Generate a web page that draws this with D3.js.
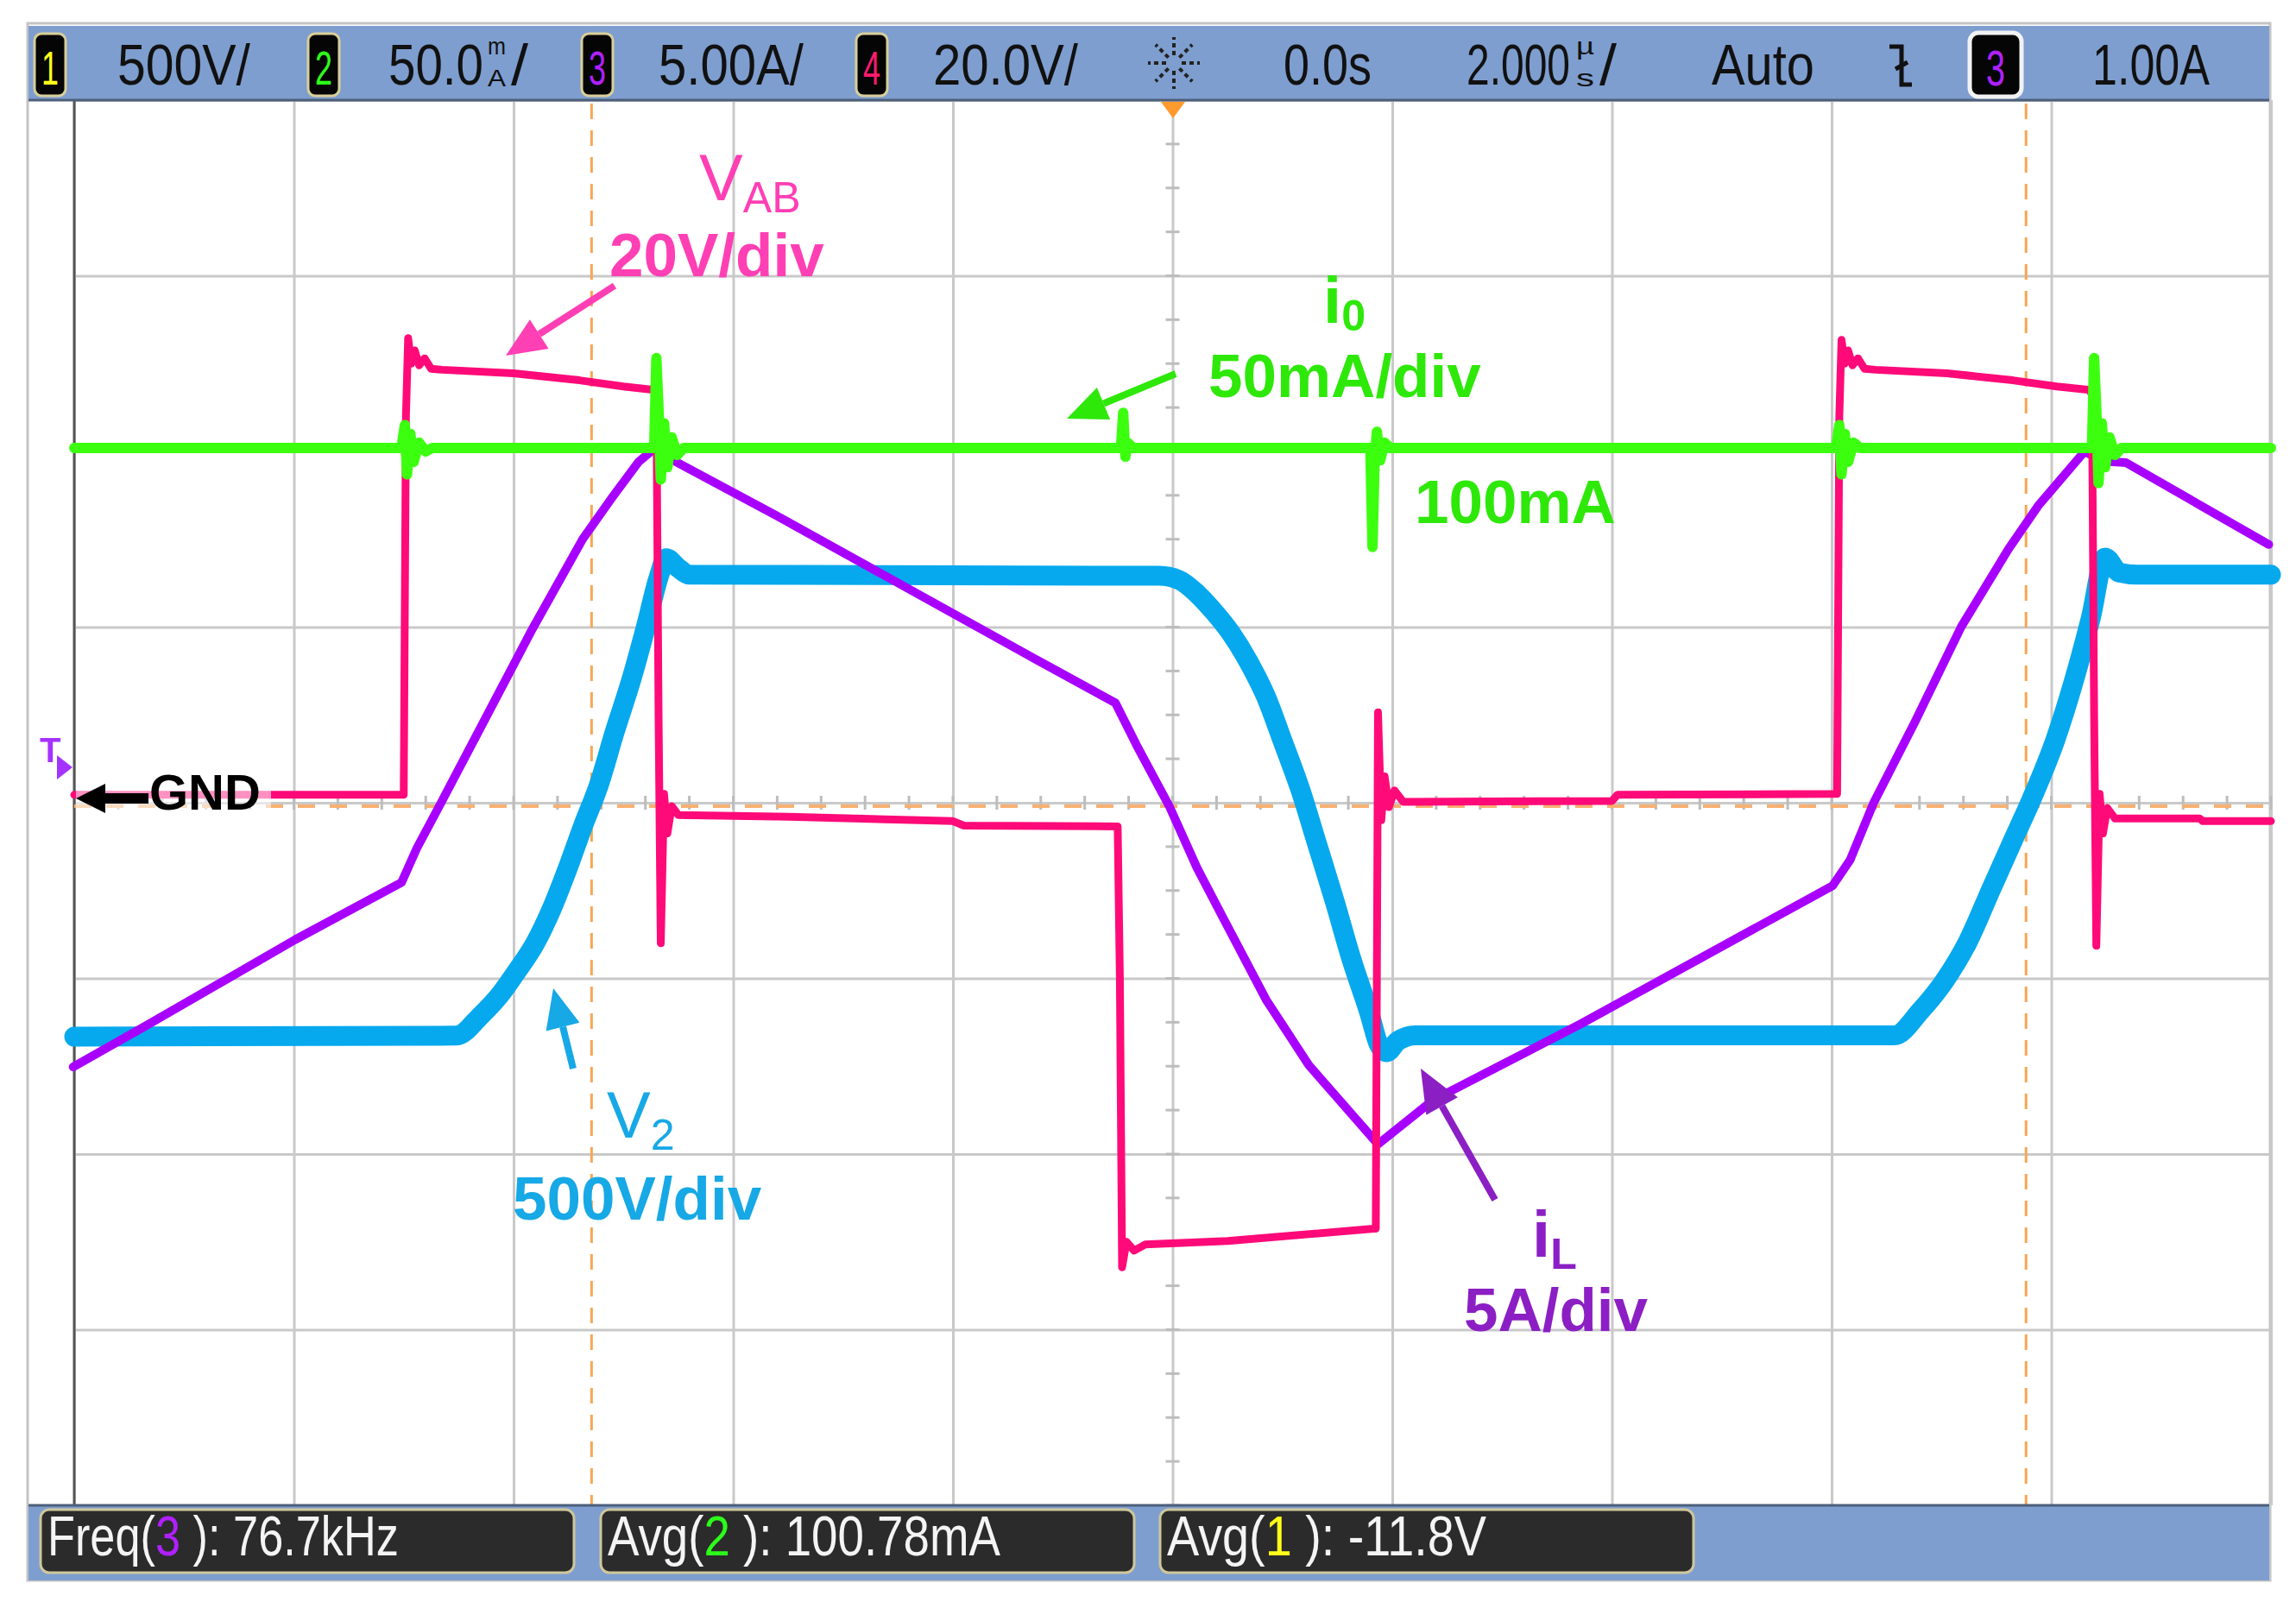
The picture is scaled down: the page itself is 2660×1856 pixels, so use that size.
<!DOCTYPE html>
<html>
<head>
<meta charset="utf-8">
<script src="https://cdn.jsdelivr.net/npm/d3@7"></script>
<style>
  html, body { margin: 0; padding: 0; background: #fff; }
  svg { display: block; }
</style>
</head>
<body>
<div id="scope"></div>
<script>
// time in us, values in channel units (V, mA, A, V)
var vabPoints = [
  [-10.0, 0.9], [-7.0, 0.9], [-6.98, 44], [-6.96, 52.9], [-6.93, 50.0], [-6.9, 51.5], [-6.86, 49.8],
  [-6.81, 50.6], [-6.75, 49.4], [-6.65, 49.3], [-6.0, 48.9], [-5.4, 48.1], [-5.0, 47.4], [-4.72, 47.0],
  [-4.70, 46.4], [-4.68, 10], [-4.66, -16], [-4.63, 1], [-4.60, -3.5], [-4.56, -0.4], [-4.50, -1.4],
  [-3.5, -1.6], [-2.0, -2.1], [-1.9, -2.6], [-0.5, -2.7], [-0.48, -20], [-0.46, -52.9], [-0.42, -50.0],
  [-0.35, -51.0], [-0.25, -50.3], [0.5, -49.9], [1.83, -48.5], [1.85, -48.5], [1.87, 10.3], [1.9, -2],
  [1.93, 3], [1.97, -0.5], [2.02, 1.4], [2.1, 0.1], [4.0, 0.2], [4.05, 0.9], [6.05, 1.0], [6.07, 44],
  [6.09, 52.7], [6.12, 50.0], [6.15, 51.5], [6.19, 49.8], [6.24, 50.6], [6.3, 49.4], [6.4, 49.3],
  [7.05, 48.9], [7.65, 48.1], [8.05, 47.4], [8.35, 47.0], [8.37, 46.4], [8.39, 10], [8.41, -16.3],
  [8.44, 1], [8.47, -3.5], [8.51, -0.6], [8.58, -1.8], [9.35, -1.8], [9.38, -2.1], [10.0, -2.1]
];

var i0Points = [
  [-10, 101], [-7.02, 101], [-6.99, 107.5], [-6.97, 93.5], [-6.94, 105], [-6.91, 97], [-6.86, 102.5],
  [-6.8, 100], [-6.74, 101], [-4.72, 101], [-4.70, 126.6], [-4.68, 112], [-4.66, 92], [-4.63, 108],
  [-4.60, 95.5], [-4.56, 104], [-4.51, 99], [-4.45, 101], [-0.47, 101], [-0.45, 111], [-0.43, 98.5],
  [-0.41, 102.5], [-0.36, 101], [1.80, 101], [1.82, 72.8], [1.84, 98], [1.86, 105.6], [1.89, 97.5],
  [1.93, 102.5], [1.98, 101], [6.04, 101], [6.07, 107.5], [6.09, 93.5], [6.12, 105], [6.15, 97],
  [6.2, 102.5], [6.26, 101], [8.37, 101], [8.39, 126.6], [8.41, 112], [8.43, 91], [8.46, 108],
  [8.49, 95.5], [8.53, 104], [8.58, 99], [8.64, 101], [10, 101]
];

var ilPoints = [
  [-10.01, -7.52], [-9.33, -6.32], [-7.99, -3.9], [-7.02, -2.27], [-6.88, -1.29], [-6.66, 0],
  [-6.30, 2.14], [-5.83, 4.94], [-5.37, 7.51], [-5.1, 8.7], [-4.86, 9.71], [-4.73, 10.05], [-4.55, 9.75],
  [-3.61, 8.18], [-1.25, 4.09], [-0.52, 2.84], [-0.33, 1.65], [-0.03, -0.1], [0.22, -1.84],
  [0.45, -3.22], [0.85, -5.60], [1.24, -7.47], [1.87, -9.72], [2.37, -8.47], [3.72, -6.29],
  [6.01, -2.36], [6.17, -1.62], [6.38, -0.02], [6.76, 2.31], [7.18, 5.01], [7.61, 7.22],
  [7.88, 8.45], [8.30, 9.99], [8.50, 9.72], [8.68, 9.68], [9.98, 7.35]
];

var v2Points = [
  [-10.0, -666], [-6.52, -663], [-6.30, -606], [-6.12, -545], [-5.98, -484], [-5.80, -398],
  [-5.65, -300], [-5.51, -189], [-5.37, -68], [-5.22, 54], [-5.08, 201], [-4.93, 348], [-4.79, 507],
  [-4.68, 641], [-4.61, 696], [-4.50, 668], [-4.40, 649], [-0.12, 646], [0.06, 634], [0.22, 596],
  [0.37, 546], [0.53, 483], [0.69, 402], [0.85, 302], [1.00, 177], [1.16, 40], [1.32, -122],
  [1.48, -285], [1.63, -447], [1.79, -597], [1.88, -690], [1.95, -710], [2.05, -678], [2.21, -662],
  [6.57, -662], [6.81, -592], [7.03, -506], [7.24, -396], [7.45, -248], [7.66, -101], [7.82, 10],
  [8.04, 182], [8.20, 341], [8.36, 526], [8.49, 698], [8.62, 655], [8.78, 649], [10.0, 649]
];

var gridTimes = [-10, -8, -6, -4, -2, 0, 2, 4, 6, 8, 10];
var gridDivs = [-4, -3, -2, -1, 0, 1, 2, 3, 4];
var cursorTimes = [-5.29, 7.77];

var W = 2660, H = 1856;
var gLeft = 86, gRight = 2631, gTop = 116, gBottom = 1744, midY = 930;

var svg = d3.select("#scope").append("svg")
    .attr("width", W).attr("height", H)
    .style("font-family", "'Liberation Sans', Arial, sans-serif");

svg.append("rect").attr("width", W).attr("height", H).attr("fill", "#fff");

var x = d3.scaleLinear().domain([-10, 10]).range([gLeft, gRight]);
var yDiv = d3.scaleLinear().domain([-4, 4]).range([gBottom, gTop]);
var yVab = d3.scaleLinear().domain([-80, 80]).range([gBottom, gTop]);     // 20 V/div
var yI0 = d3.scaleLinear().domain([-200, 200]).range([gBottom, gTop]);    // 50 mA/div
var yIl = d3.scaleLinear().domain([-20, 20]).range([gBottom, gTop]);      // 5 A/div
var yV2 = d3.scaleLinear().domain([-2000, 2000]).range([gBottom, gTop]);  // 500 V/div

// squeeze a text to a given width (scope font is condensed)
function squeeze(t, xp, yp, width) {
    var w = t.node().getComputedTextLength();
    t.attr("x", 0).attr("y", 0)
        .attr("transform", "translate(" + xp + "," + yp + ") scale(" + (width / w) + ",1)");
    return t;
}

// screen frame
svg.append("rect").attr("x", 32).attr("y", 27).attr("width", 2598).attr("height", 1804)
    .attr("fill", "#fff").attr("stroke", "#c4c4c4").attr("stroke-width", 3);

// graticule
var grid = svg.append("g");
grid.append("g")
    .attr("transform", "translate(0," + gTop + ")")
    .call(d3.axisTop(x).tickValues(gridTimes).tickSize(-(gBottom - gTop)).tickFormat(""))
    .call(function (g) { g.select(".domain").remove(); })
    .selectAll("line").attr("stroke", "#c9c9c9").attr("stroke-width", 3);
grid.append("g")
    .attr("transform", "translate(" + gLeft + ",0)")
    .call(d3.axisLeft(yDiv).tickValues(gridDivs).tickSize(-(gRight - gLeft)).tickFormat(""))
    .call(function (g) { g.select(".domain").remove(); })
    .selectAll("line").attr("stroke", "#c9c9c9").attr("stroke-width", 3);

// minor ticks on the centre lines
var minorX = d3.range(-10, 10.001, 0.4), minorY = d3.range(-4, 4.001, 0.25);
grid.selectAll(".mx").data(minorX).enter().append("line")
    .attr("x1", function (d) { return x(d); }).attr("x2", function (d) { return x(d); })
    .attr("y1", midY - 8).attr("y2", midY + 8)
    .attr("stroke", "#bdbdbd").attr("stroke-width", 3);
grid.selectAll(".my").data(minorY).enter().append("line")
    .attr("y1", function (d) { return yDiv(d); }).attr("y2", function (d) { return yDiv(d); })
    .attr("x1", x(0) - 8).attr("x2", x(0) + 8)
    .attr("stroke", "#bdbdbd").attr("stroke-width", 3);

grid.append("line").attr("x1", gLeft).attr("x2", gLeft).attr("y1", gTop).attr("y2", gBottom)
    .attr("stroke", "#555").attr("stroke-width", 3);

// cursors
svg.selectAll(".cur").data(cursorTimes).enter().append("line")
    .attr("x1", function (d) { return x(d); }).attr("x2", function (d) { return x(d); })
    .attr("y1", gTop + 4).attr("y2", gBottom)
    .attr("stroke", "#f7a654").attr("stroke-width", 3).attr("stroke-dasharray", "18,13");
svg.append("line").attr("x1", gLeft).attr("x2", gRight).attr("y1", 934).attr("y2", 934)
    .attr("stroke", "#f7b070").attr("stroke-width", 4).attr("stroke-dasharray", "20,17");

// traces
function trace(points, yScale, color, width, curve) {
    var line = d3.line()
        .x(function (d) { return x(d[0]); })
        .y(function (d) { return yScale(d[1]); })
        .curve(curve || d3.curveLinear);
    svg.append("path").attr("d", line(points))
        .attr("fill", "none").attr("stroke", color).attr("stroke-width", width)
        .attr("stroke-linejoin", "round").attr("stroke-linecap", "round");
}

trace(v2Points, yV2, "#06a9ee", 23, d3.curveMonotoneX);
trace(ilPoints, yIl, "#a800ff", 10);
trace(vabPoints, yVab, "#ff0a78", 9);
trace(i0Points, yI0, "#3cff10", 12);

// GND marker
svg.append("rect").attr("x", 88).attr("y", 898).attr("width", 226).attr("height", 42)
    .attr("fill", "#fff").attr("opacity", 0.55);
function arrow(x1, y1, x2, y2, color, w, headL, headW) {
    var a = Math.atan2(y2 - y1, x2 - x1);
    var bx = x2 - headL * Math.cos(a), by = y2 - headL * Math.sin(a);
    svg.append("line").attr("x1", x1).attr("y1", y1).attr("x2", bx).attr("y2", by)
        .attr("stroke", color).attr("stroke-width", w);
    var px = -Math.sin(a) * headW / 2, py = Math.cos(a) * headW / 2;
    svg.append("polygon")
        .attr("points", [[x2, y2], [bx + px, by + py], [bx - px, by - py]].map(function (p) { return p.join(","); }).join(" "))
        .attr("fill", color);
}
arrow(172, 925, 88, 925, "#000", 12, 34, 34);
svg.append("text").attr("x", 173).attr("y", 938).text("GND")
    .attr("font-size", 58).attr("font-weight", "bold").attr("fill", "#000");

// trigger level marker
svg.append("text").attr("x", 46).attr("y", 883).text("T")
    .attr("font-size", 40).attr("font-weight", "bold").attr("fill", "#a533ff");
svg.append("polygon").attr("points", "66,875 66,903 84,889").attr("fill", "#a533ff");

// annotations
function label(xp, yp, main, sub, color, size, bold, dy) {
    var t = svg.append("text").attr("x", xp).attr("y", yp).attr("fill", color)
        .attr("font-size", size).attr("font-weight", bold ? "bold" : "normal");
    t.append("tspan").text(main);
    if (sub) t.append("tspan").attr("dy", dy || 14).attr("font-size", size * 0.66).text(sub);
}
label(810, 232, "V", "AB", "#ff3fb4", 76, false);
label(706, 320, "20V/div", null, "#ff3fb4", 71, true);
arrow(712, 331, 586, 412, "#ff3fb4", 8, 46, 40);

label(1533, 374, "i", "0", "#2ee80a", 76, true, 9);
label(1400, 460, "50mA/div", null, "#2ee80a", 71, true);
arrow(1362, 433, 1236, 485, "#2ee80a", 8, 46, 40);
label(1639, 606, "100mA", null, "#2ee80a", 71, true);

label(703, 1318, "V", "2", "#17a8e6", 76, false);
label(594, 1413, "500V/div", null, "#17a8e6", 71, true);
arrow(664, 1238, 641, 1145, "#17a8e6", 8, 46, 40);

label(1775, 1456, "i", "L", "#8b1fc4", 76, true);
label(1696, 1542, "5A/div", null, "#8b1fc4", 71, true);
arrow(1732, 1390, 1646, 1238, "#8b1fc4", 8, 50, 42);

// top status bar
var barFill = "#7e9ecf";
svg.append("rect").attr("x", 33).attr("y", 30).attr("width", 2596).attr("height", 86).attr("fill", barFill);
svg.append("line").attr("x1", 33).attr("x2", 2629).attr("y1", 116).attr("y2", 116)
    .attr("stroke", "#4d5f7a").attr("stroke-width", 3);

var badges = [
    {x: 40, n: "1", c: "#ffff1a"}, {x: 357, n: "2", c: "#2cff1a"},
    {x: 674, n: "3", c: "#b020ff"}, {x: 992, n: "4", c: "#ff1a6e"}
];
badges.forEach(function (b) {
    svg.append("rect").attr("x", b.x).attr("y", 39).attr("width", 36).attr("height", 72).attr("rx", 8)
        .attr("fill", "#050505").attr("stroke", "#d9cf9a").attr("stroke-width", 3);
    squeeze(svg.append("text").attr("font-size", 56).attr("fill", b.c).text(b.n), b.x + 8, 98, 20);
});
svg.append("rect").attr("x", 2282).attr("y", 38).attr("width", 60).attr("height", 74).attr("rx", 10)
    .attr("fill", "#050505").attr("stroke", "#f2f2f2").attr("stroke-width", 5);
squeeze(svg.append("text").attr("font-size", 58).attr("fill", "#b020ff").text("3"), 2301, 99, 22);

function barText(xp, w, s) {
    squeeze(svg.append("text").attr("font-size", 67).attr("fill", "#111").text(s), xp, 98, w);
}
barText(136, 154, "500V/");
barText(450, 110, "50.0");
barText(592, 20, "/");
barText(763, 168, "5.00A/");
barText(1081, 168, "20.0V/");
barText(1487, 102, "0.0s");
barText(1699, 120, "2.000");
barText(1853, 20, "/");
barText(1983, 119, "Auto");
barText(2424, 136, "1.00A");
function stack(xp, a, b) {
    squeeze(svg.append("text").attr("font-size", 27).attr("fill", "#111").text(a), xp, 63, 21);
    squeeze(svg.append("text").attr("font-size", 27).attr("fill", "#111").text(b), xp, 100, 21);
}
stack(565, "m", "A");
stack(1826, "\u00b5", "s");

// acquisition icon
var sun = svg.append("g").attr("transform", "translate(1360,73)");
d3.range(0, 360, 45).forEach(function (ang) {
    var r = ang * Math.PI / 180;
    sun.append("line").attr("x1", 9 * Math.cos(r)).attr("y1", 9 * Math.sin(r))
        .attr("x2", 30 * Math.cos(r)).attr("y2", 30 * Math.sin(r))
        .attr("stroke", "#222").attr("stroke-width", 4).attr("stroke-dasharray", "5,4");
});
// trigger slope icon
svg.append("path").attr("d", "M2189,54 L2203,54 L2203,98 L2215,98 M2196,80 L2210,72")
    .attr("fill", "none").attr("stroke", "#111").attr("stroke-width", 5);
// trigger position marker
svg.append("polygon").attr("points", "1345,118 1373,118 1359,137").attr("fill", "#ff9a2e");

// bottom measurement bar
svg.append("rect").attr("x", 33).attr("y", 1745).attr("width", 2596).attr("height", 86).attr("fill", barFill);
svg.append("line").attr("x1", 33).attr("x2", 2629).attr("y1", 1744).attr("y2", 1744)
    .attr("stroke", "#4d5f7a").attr("stroke-width", 3);
var meas = [
    {x: 47, w: 618, pre: "Freq(", n: "3", c: "#b020ff", post: " ): 76.7kHz", tw: 407},
    {x: 696, w: 618, pre: "Avg(", n: "2", c: "#2cff1a", post: " ): 100.78mA", tw: 455},
    {x: 1344, w: 618, pre: "Avg(", n: "1", c: "#ffff1a", post: " ): -11.8V", tw: 370}
];
meas.forEach(function (m) {
    svg.append("rect").attr("x", m.x).attr("y", 1749).attr("width", m.w).attr("height", 73).attr("rx", 10)
        .attr("fill", "#2b2b2b").attr("stroke", "#cfc79a").attr("stroke-width", 3);
    var t = svg.append("text").attr("font-size", 64).attr("fill", "#f4f4f4");
    t.append("tspan").text(m.pre);
    t.append("tspan").attr("fill", m.c).text(m.n);
    t.append("tspan").text(m.post);
    squeeze(t, m.x + 8, 1802, m.tw);
});
</script>
</body>
</html>
